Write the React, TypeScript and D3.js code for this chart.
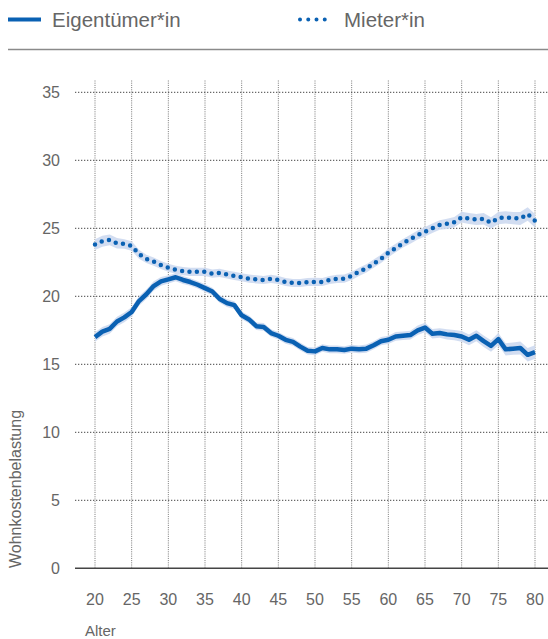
import React from "react";
import * as d3 from "d3";

const ages: number[] = [
  20, 21, 22, 23, 24, 25, 26, 27, 28, 29, 30, 31, 32, 33, 34, 35, 36, 37, 38, 39, 40,
  41, 42, 43, 44, 45, 46, 47, 48, 49, 50, 51, 52, 53, 54, 55, 56, 57, 58, 59, 60,
  61, 62, 63, 64, 65, 66, 67, 68, 69, 70, 71, 72, 73, 74, 75, 76, 77, 78, 79, 80,
];

const eigentuemer: number[] = [
  17.0, 17.4, 17.6, 18.15, 18.45, 18.85, 19.65, 20.15, 20.75, 21.1, 21.25,
  21.4, 21.2, 21.05, 20.85, 20.6, 20.35, 19.8, 19.5, 19.35, 18.6,
  18.3, 17.8, 17.75, 17.3, 17.1, 16.8, 16.65, 16.3, 16.0, 15.95,
  16.2, 16.1, 16.1, 16.05, 16.15, 16.1, 16.15, 16.4, 16.7, 16.8,
  17.05, 17.1, 17.15, 17.5, 17.7, 17.25, 17.3, 17.2, 17.15, 17.05,
  16.8, 17.1, 16.7, 16.35, 16.85, 16.1, 16.15, 16.2, 15.7, 15.9,
];

const eigentuemerCI: number[] = [
  0.35, 0.35, 0.35, 0.35, 0.35, 0.35, 0.35, 0.35, 0.35, 0.32, 0.3,
  0.3, 0.3, 0.28, 0.28, 0.28, 0.28, 0.28, 0.28, 0.28, 0.28,
  0.28, 0.28, 0.28, 0.28, 0.28, 0.28, 0.28, 0.28, 0.28, 0.28,
  0.28, 0.28, 0.28, 0.28, 0.28, 0.28, 0.3, 0.3, 0.3, 0.3,
  0.32, 0.32, 0.32, 0.35, 0.35, 0.35, 0.35, 0.38, 0.38, 0.4,
  0.4, 0.4, 0.42, 0.42, 0.45, 0.45, 0.45, 0.48, 0.5, 0.5,
];

const mieter: number[] = [
  23.8, 24.05, 24.15, 23.9, 23.85, 23.7, 23.1, 22.75, 22.55, 22.3, 22.1,
  21.95, 21.85, 21.8, 21.8, 21.8, 21.67, 21.72, 21.6, 21.5, 21.4,
  21.3, 21.25, 21.2, 21.28, 21.2, 21.05, 20.98, 20.98, 21.05, 21.06,
  21.05, 21.2, 21.28, 21.3, 21.5, 21.8, 22.05, 22.4, 22.75, 23.2,
  23.55, 23.9, 24.2, 24.5, 24.75, 25.0, 25.25, 25.33, 25.45, 25.82,
  25.72, 25.65, 25.7, 25.4, 25.75, 25.8, 25.75, 25.72, 26.05, 25.55,
];

const mieterCI: number[] = [
  0.4, 0.4, 0.4, 0.38, 0.35, 0.35, 0.33, 0.3, 0.3, 0.3, 0.3,
  0.3, 0.3, 0.3, 0.3, 0.3, 0.3, 0.3, 0.3, 0.3, 0.3,
  0.3, 0.3, 0.3, 0.3, 0.3, 0.3, 0.3, 0.3, 0.3, 0.3,
  0.3, 0.3, 0.3, 0.3, 0.3, 0.3, 0.3, 0.3, 0.3, 0.32,
  0.32, 0.32, 0.33, 0.33, 0.35, 0.35, 0.35, 0.38, 0.38, 0.4,
  0.4, 0.4, 0.42, 0.42, 0.45, 0.45, 0.45, 0.48, 0.5, 0.5,
];

const xTicks: number[] = [20, 25, 30, 35, 40, 45, 50, 55, 60, 65, 70, 75, 80];
const yTicks: number[] = [0, 5, 10, 15, 20, 25, 30, 35];
const legendLabels: string[] = ["Eigentümer*in", "Mieter*in"];
const xTitle = "Alter";
const yTitle = "Wohnkostenbelastung";

const W = 548;
const H = 639;
const BLUE = "#0a61b3";
const BAND = "#cdd9f0";
const TEXT = "#666";
const FONT = "'Liberation Sans', Arial, sans-serif";

export default function App() {
  const x = d3.scaleLinear().domain([20, 80]).range([95, 535]);
  const y = d3.scaleLinear().domain([0, 35]).range([568.3, 92.3]);

  const line = (vals: number[]) =>
    d3
      .line<number>()
      .x((_, i) => x(ages[i]))
      .y((d) => y(d))(vals) as string;

  const area = (vals: number[], ci: number[]) =>
    d3
      .area<number>()
      .x((_, i) => x(ages[i]))
      .y0((d, i) => y(d - ci[i]))
      .y1((d, i) => y(d + ci[i]))(vals) as string;

  return (
    <svg
      width={W}
      height={H}
      style={{ position: "absolute", left: 0, top: 0, background: "#fff" }}
      fontFamily={FONT}
    >
      {/* Legend */}
      <line x1={8} x2={41} y1={19.5} y2={19.5} stroke={BLUE} strokeWidth={4} />
      <text x={52} y={26.5} fontSize={20.5} fill={TEXT}>
        {legendLabels[0]}
      </text>
      <line
        x1={300}
        x2={333}
        y1={19.5}
        y2={19.5}
        stroke={BLUE}
        strokeWidth={4}
        strokeLinecap="round"
        strokeDasharray="0 8.25"
      />
      <text x={344} y={26.5} fontSize={20.5} fill={TEXT}>
        {legendLabels[1]}
      </text>
      <line x1={8} x2={548} y1={49.5} y2={49.5} stroke="#8a8a8a" strokeWidth={1.5} />

      {/* Vertical gridlines */}
      {xTicks.map((t) => (
        <line
          key={"vx" + t}
          x1={x(t)}
          x2={x(t)}
          y1={80.5}
          y2={568}
          stroke="#777"
          strokeWidth={1}
          strokeDasharray="1 1.2"
        />
      ))}
      {/* Horizontal gridlines */}
      {yTicks
        .filter((t) => t !== 0)
        .map((t) => (
          <line
            key={"hy" + t}
            x1={75}
            x2={548}
            y1={y(t)}
            y2={y(t)}
            stroke="#444"
            strokeWidth={1}
            strokeDasharray="1.3 1.7"
          />
        ))}
      <line x1={75} x2={548} y1={y(0)} y2={y(0)} stroke="#444" strokeWidth={1.5} />

      {/* Y tick labels */}
      {yTicks.map((t) => (
        <text
          key={"yl" + t}
          x={60}
          y={y(t)}
          dy="0.36em"
          textAnchor="end"
          fontSize={16}
          fill={TEXT}
        >
          {t}
        </text>
      ))}
      {/* X tick labels */}
      {xTicks.map((t) => (
        <text
          key={"xl" + t}
          x={x(t)}
          y={605}
          textAnchor="middle"
          fontSize={16}
          fill={TEXT}
        >
          {t}
        </text>
      ))}
      <text x={85} y={636} fontSize={15} fill={TEXT}>
        {xTitle}
      </text>
      <text
        transform={`translate(21,568) rotate(-90)`}
        fontSize={16}
        fill={TEXT}
        textAnchor="start"
      >
        {yTitle}
      </text>

      {/* Bands */}
      <path d={area(mieter, mieterCI)} fill={BAND} opacity={0.9} />
      <path d={area(eigentuemer, eigentuemerCI)} fill={BAND} opacity={0.9} />

      {/* Lines */}
      <path
        d={line(mieter)}
        fill="none"
        stroke={BLUE}
        strokeWidth={4.5}
        strokeLinecap="round"
        strokeDasharray="0 7.4"
      />
      <path
        d={line(eigentuemer)}
        fill="none"
        stroke={BLUE}
        strokeWidth={4.5}
        strokeLinejoin="round"
      />
    </svg>
  );
}
